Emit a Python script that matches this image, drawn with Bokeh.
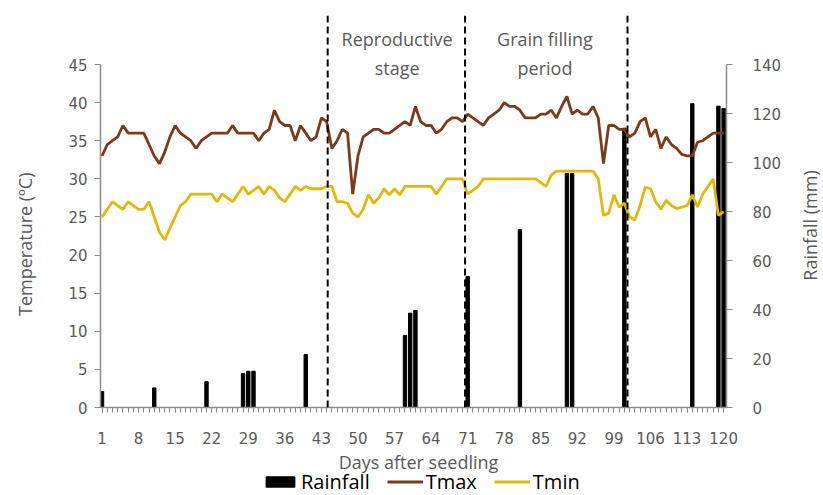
import math
from bokeh.plotting import figure
from bokeh.layouts import column, row
from bokeh.models import Range1d, LinearAxis, FixedTicker, Span, Label, Legend, LegendItem
from bokeh.embed import file_html
from bokeh.resources import INLINE

days = list(range(1, 121))
tmax = [33, 34.5, 35, 35.5, 37, 36, 36, 36, 36, 34.5,
        33, 32, 33.5, 35.5, 37, 36, 35.5, 35, 34, 35,
        35.5, 36, 36, 36, 36, 37, 36, 36, 36, 36,
        35, 36, 36.5, 39, 37.5, 37, 37, 35, 37, 36,
        35, 35.5, 38, 37.5, 34, 35, 36.5, 36, 28, 33,
        35.5, 36, 36.5, 36.5, 36, 36, 36.5, 37, 37.5, 37,
        39.5, 37.5, 37, 37, 36, 36.5, 37.5, 38, 38, 37.5,
        38.5, 38, 37.5, 37, 38, 38.5, 39, 40, 39.5, 39.5,
        39, 38, 38, 38, 38.5, 38.5, 39, 38, 39.5, 40.8,
        38.5, 39, 38.5, 38.5, 39.5, 38, 32, 37, 37, 36.5,
        36.5, 35.5, 36, 37.5, 38, 35.5, 36.5, 34, 35.5, 34.5,
        34, 33.2, 33, 33, 34.8, 35, 35.5, 36, 36, 36]
tmin = [25, 26, 27, 26.5, 26, 27, 26.5, 26, 26, 27,
        25, 23, 22, 23.5, 25, 26.5, 27, 28, 28, 28,
        28, 28, 27, 28, 27.5, 27, 28, 29, 28, 28.5,
        29, 28, 29, 28.5, 27.5, 27, 28, 29, 28.5, 29,
        28.7, 28.7, 28.7, 29, 29, 27, 27, 26.8, 25.5, 25,
        26, 27.9, 26.8, 27.5, 28.7, 27.9, 28.7, 27.9, 29, 29,
        29, 29, 29, 29, 28, 29, 30, 30, 30, 30,
        28, 28.5, 29, 30, 30, 30, 30, 30, 30, 30,
        30, 30, 30, 30, 29.5, 29, 30.5, 31, 31, 31,
        31, 31, 31, 31, 31, 30, 25.2, 25.5, 27.9, 26.3,
        26.8, 25, 24.6, 26.5, 28.9, 28.7, 27, 26, 27.2, 26.5,
        26.1, 26.3, 26.5, 27.9, 26.3, 28, 29, 30, 25.2, 25.7]
rain_days = [1, 11, 21, 28, 29, 30, 40, 59, 60, 61, 71, 81, 90, 91, 101, 114, 119, 120]
rain_mm = [6.5, 8, 10.5, 13.8, 14.8, 14.8, 21.6, 29.4, 38.5, 39.6, 53.5, 72.6,
           95.5, 95.5, 114, 124, 123, 122]
stage_days = [44.2, 70.5, 101.6]
x_ticks = list(range(1, 121, 7))
temp_ticks = list(range(0, 46, 5))
rain_ticks = list(range(0, 141, 20))

GRAY = "#595959"
AXC = "#8c8c8c"
TMAX_C = "#7B3A1A"
TMIN_C = "#E3B70C"
NB = "\u00a0"

p = figure(width=793, height=449, output_backend="svg", toolbar_location=None,
           x_range=Range1d(0.71, 120.55), y_range=Range1d(0, 51.43),
           min_border_left=100, min_border_right=67, min_border_top=15,
           min_border_bottom=42)
p.extra_y_ranges = {"rain": Range1d(0, 160)}
p.xgrid.visible = False
p.ygrid.visible = False
p.outline_line_color = None
p.background_fill_color = "white"

bars = p.vbar(x=rain_days, top=rain_mm, width=0.65, y_range_name="rain",
              fill_color="black", line_color="black")
lmax = p.line(days, tmax, line_color=TMAX_C, line_width=2.8)
lmin = p.line(days, tmin, line_color=TMIN_C, line_width=2.8)

for d in stage_days:
    p.add_layout(Span(location=d, dimension="height", line_color="black",
                      line_width=2, line_dash="7 4"))

for txt, x, y in [("Reproductive", 57.5, 48.3), ("stage", 57.5, 44.6),
                  ("Grain filling", 85.8, 48.3), ("period", 85.8, 44.6)]:
    p.add_layout(Label(x=x, y=y, text=txt, text_align="center", text_baseline="middle",
                       text_font="Open Sans", text_font_size="18px", text_color=GRAY))

# x axis
xa = p.xaxis[0]
xa.ticker = FixedTicker(ticks=x_ticks, minor_ticks=days)
xa.major_label_text_font = "DejaVu Sans"
xa.major_label_text_font_size = "15px"
xa.major_label_text_color = GRAY
xa.major_label_standoff = 19
xa.axis_line_color = AXC
xa.axis_line_width = 1.5
xa.major_tick_line_color = AXC
xa.minor_tick_line_color = AXC
xa.major_tick_in = 0
xa.major_tick_out = 5
xa.minor_tick_in = 0
xa.minor_tick_out = 5

# left axis
ya = p.yaxis[0]
ya.ticker = FixedTicker(ticks=temp_ticks, minor_ticks=[])
ya.bounds = (0, 45)
ya.axis_label = "Temperature (ºC)" + NB * 14
ya.axis_label_text_font = "Open Sans"
ya.axis_label_text_font_style = "normal"
ya.axis_label_text_font_size = "18px"
ya.axis_label_text_color = GRAY
ya.axis_label_standoff = 28
ya.major_label_text_font = "DejaVu Sans"
ya.major_label_text_font_size = "15px"
ya.major_label_text_color = GRAY
ya.major_label_standoff = 7
ya.axis_line_color = AXC
ya.axis_line_width = 1.5
ya.major_tick_line_color = AXC
ya.major_tick_in = 0
ya.major_tick_out = 6

# right axis (its title is drawn in the narrow strip to the right)
ra = LinearAxis(y_range_name="rain", ticker=FixedTicker(ticks=rain_ticks, minor_ticks=[]))
ra.bounds = (0, 140)
ra.major_label_text_font = "DejaVu Sans"
ra.major_label_text_font_size = "15px"
ra.major_label_text_color = GRAY
ra.major_label_standoff = 20
ra.axis_line_color = AXC
ra.axis_line_width = 1.5
ra.major_tick_line_color = AXC
ra.major_tick_in = 0
ra.major_tick_out = 6
p.add_layout(ra, "right")

# strip below the chart: x-axis title and legend (keys from off-screen sample glyphs)
lg = figure(width=793, height=46, output_backend="svg", toolbar_location=None,
            x_range=Range1d(0, 1), y_range=Range1d(0, 1), min_border=0,
            x_axis_location=None, y_axis_location=None)
lg.xgrid.visible = False
lg.ygrid.visible = False
lg.outline_line_color = None
lg.add_layout(Label(x=318, y=34, x_units="screen", y_units="screen",
                    text="Days after seedling", text_align="center",
                    text_baseline="middle", text_font="Open Sans",
                    text_font_size="18px", text_color=GRAY))
k_bar = lg.vbar(x=[-5], top=[-5], bottom=[-6], width=0.1, fill_color="black", line_color="black")
k_max = lg.line(x=[-5, -4], y=[-5, -5], line_color=TMAX_C, line_width=3)
k_min = lg.line(x=[-5, -4], y=[-5, -5], line_color=TMIN_C, line_width=3)
legend = Legend(items=[LegendItem(label="Rainfall", renderers=[k_bar]),
                       LegendItem(label="Tmax", renderers=[k_max]),
                       LegendItem(label="Tmin", renderers=[k_min])],
                orientation="horizontal", location=(162, 0),
                glyph_width=36, glyph_height=13, label_standoff=3, spacing=17,
                padding=0, margin=0, border_line_color=None,
                background_fill_alpha=0, label_height=19,
                label_text_font="Open Sans", label_text_font_size="20px",
                label_text_color="black")
lg.add_layout(legend)

# narrow strip on the right with the secondary axis title
rf = figure(width=30, height=495, output_backend="svg", toolbar_location=None,
            x_range=Range1d(0, 1), y_range=Range1d(0, 1), min_border=0,
            min_border_top=15, min_border_bottom=88,
            x_axis_location=None, y_axis_location=None)
rf.xgrid.visible = False
rf.ygrid.visible = False
rf.outline_line_color = None
rf.add_layout(Label(x=16, y=182, x_units="screen", y_units="screen",
                    text="Rainfall (mm)", angle=math.pi / 2,
                    text_align="center", text_baseline="middle",
                    text_font="Open Sans", text_font_size="18px", text_color=GRAY))

open("out.html", "w").write(file_html(row(column(p, lg, spacing=0), rf, spacing=0), INLINE))
